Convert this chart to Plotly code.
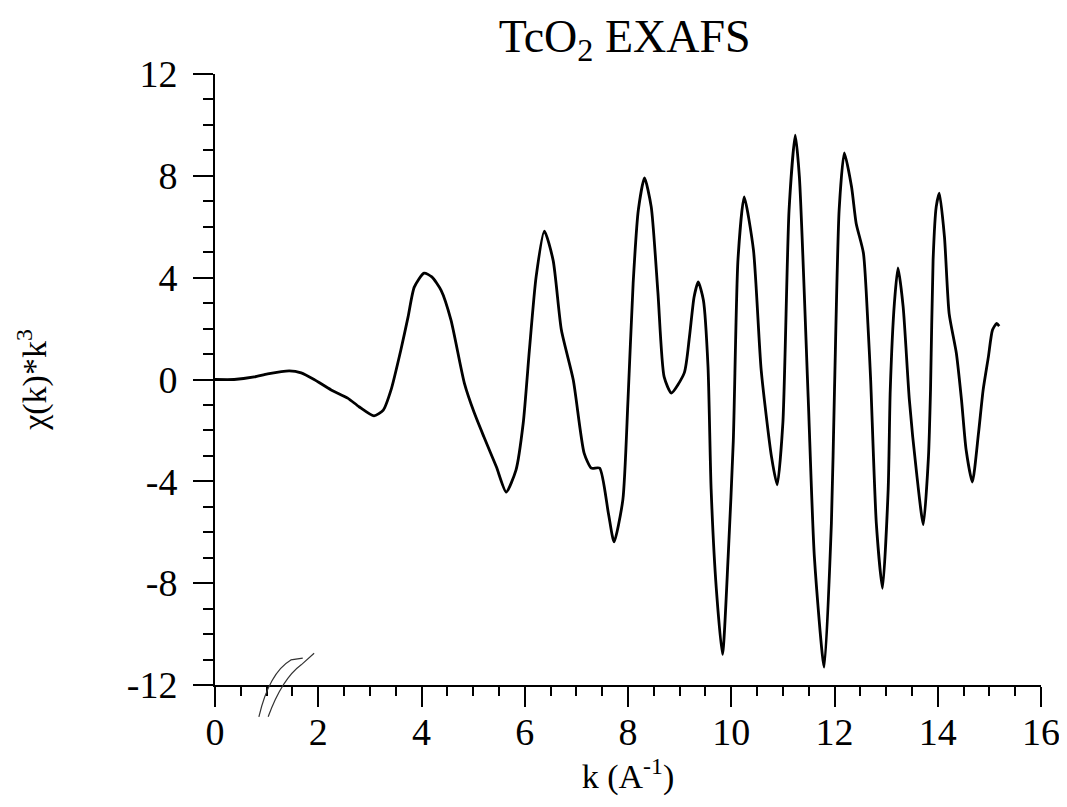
import plotly.graph_objects as go

# EXAFS trace
k_values = [
    0.00, 0.37, 0.76, 1.02, 1.44, 1.67, 1.92, 2.25, 2.57, 2.79,
    3.08, 3.26, 3.41, 3.60, 3.74, 3.86, 4.05, 4.20, 4.38, 4.57,
    4.83, 5.02, 5.21, 5.45, 5.64, 5.83, 5.97, 6.09, 6.22, 6.38,
    6.55, 6.71, 6.94, 7.15, 7.29, 7.45, 7.62, 7.73, 7.90, 8.00,
    8.10, 8.20, 8.32, 8.45, 8.58, 8.70, 8.84, 9.09, 9.19, 9.28,
    9.36, 9.46, 9.55, 9.61, 9.71, 9.83, 9.94, 10.04, 10.13, 10.25,
    10.43, 10.58, 10.78, 10.89, 11.00, 11.12, 11.24, 11.32, 11.49, 11.61,
    11.80, 11.94, 12.00, 12.09, 12.19, 12.33, 12.42, 12.56, 12.65, 12.70,
    12.81, 12.93, 13.04, 13.08, 13.16, 13.23, 13.33, 13.45, 13.59, 13.72,
    13.82, 13.86, 13.91, 13.97, 14.03, 14.13, 14.22, 14.36, 14.46, 14.55,
    14.67, 14.79, 14.88, 14.98, 15.06, 15.14, 15.19,
]
chi_k3 = [
    0.00, 0.00, 0.10, 0.22, 0.34, 0.26, 0.00, -0.41, -0.73, -1.07,
    -1.43, -1.20, -0.41, 1.16, 2.46, 3.63, 4.18, 4.03, 3.50, 2.34,
    -0.14, -1.30, -2.26, -3.43, -4.42, -3.56, -1.72, 1.16, 4.03, 5.83,
    4.68, 1.94, -0.02, -2.89, -3.48, -3.48, -5.25, -6.38, -4.73, -0.80,
    3.79, 6.66, 7.92, 6.78, 3.40, 0.10, -0.53, 0.26, 1.67, 3.24,
    3.83, 3.12, 0.49, -4.30, -8.20, -10.80, -6.97, -2.40, 4.70, 7.17,
    5.09, 0.37, -3.04, -4.14, -1.70, 6.66, 9.60, 7.95, -0.70, -6.97,
    -11.30, -5.64, -0.40, 6.66, 8.90, 7.57, 6.13, 4.97, 2.06, 0.00,
    -5.65, -8.20, -4.30, -0.41, 3.00, 4.38, 2.85, -0.80, -3.67, -5.70,
    -3.04, -0.40, 4.70, 6.78, 7.32, 5.60, 2.60, 1.04, -0.80, -2.77,
    -4.03, -2.10, -0.40, 0.88, 1.94, 2.20, 2.10,
]

x_ticks = [0, 2, 4, 6, 8, 10, 12, 14, 16]
y_ticks = [-12, -8, -4, 0, 4, 8, 12]
y_tick_text = ["-12", "-8", "-4", "0", "4", "8", "12"]

FONT = "Liberation Serif, Times New Roman, serif"

fig = go.Figure()

fig.add_trace(
    go.Scatter(
        x=k_values,
        y=chi_k3,
        mode="lines",
        line=dict(color="black", width=2.8, shape="spline", smoothing=0.6),
        showlegend=False,
    )
)

# hand-drawn axis break mark near k = 1
fig.add_shape(
    type="path",
    xref="x", yref="paper",
    path="M 0.85,-0.052 Q 1.05,0.02 1.47,0.041 L 1.70,0.044",
    line=dict(color="#333333", width=1.2),
)
fig.add_shape(
    type="path",
    xref="x", yref="paper",
    path="M 1.03,-0.052 Q 1.30,0.01 1.67,0.033 L 1.92,0.052",
    line=dict(color="#333333", width=1.2),
)

fig.update_layout(
    width=1067,
    height=807,
    margin=dict(l=207, r=34, t=66, b=130),
    paper_bgcolor="white",
    plot_bgcolor="white",
    font=dict(family=FONT, color="black"),
    title=dict(
        text="TcO<sub>2</sub> EXAFS",
        x=0.578, xanchor="center",
        y=0.966, yanchor="middle",
        font=dict(size=46, family=FONT),
    ),
)

fig.update_xaxes(
    range=[0, 16],
    tickvals=x_ticks,
    ticks="outside",
    ticklen=20,
    tickwidth=2,
    tickcolor="black",
    showline=True,
    linecolor="black",
    linewidth=2,
    showgrid=False,
    zeroline=False,
    tickfont=dict(size=38, family=FONT),
    ticklabelstandoff=-8,
    minor=dict(dtick=0.5, ticks="outside", ticklen=9, tickwidth=2, tickcolor="black", showgrid=False),
    title=dict(text="k (A<sup>-1</sup>)", font=dict(size=34, family=FONT), standoff=2),
)
fig.update_yaxes(
    range=[-12, 12],
    tickvals=y_ticks,
    ticktext=y_tick_text,
    ticks="outside",
    ticklen=20,
    tickwidth=2,
    tickcolor="black",
    showline=True,
    linecolor="black",
    linewidth=2,
    showgrid=False,
    zeroline=False,
    tickfont=dict(size=38, family=FONT),
    ticklabelstandoff=8,
    minor=dict(dtick=1, ticks="outside", ticklen=10, tickwidth=2, tickcolor="black", showgrid=False),
    title=dict(text="χ(k)*k<sup>3</sup>", font=dict(size=34, family=FONT), standoff=70),
)

fig.write_html("out.html")
